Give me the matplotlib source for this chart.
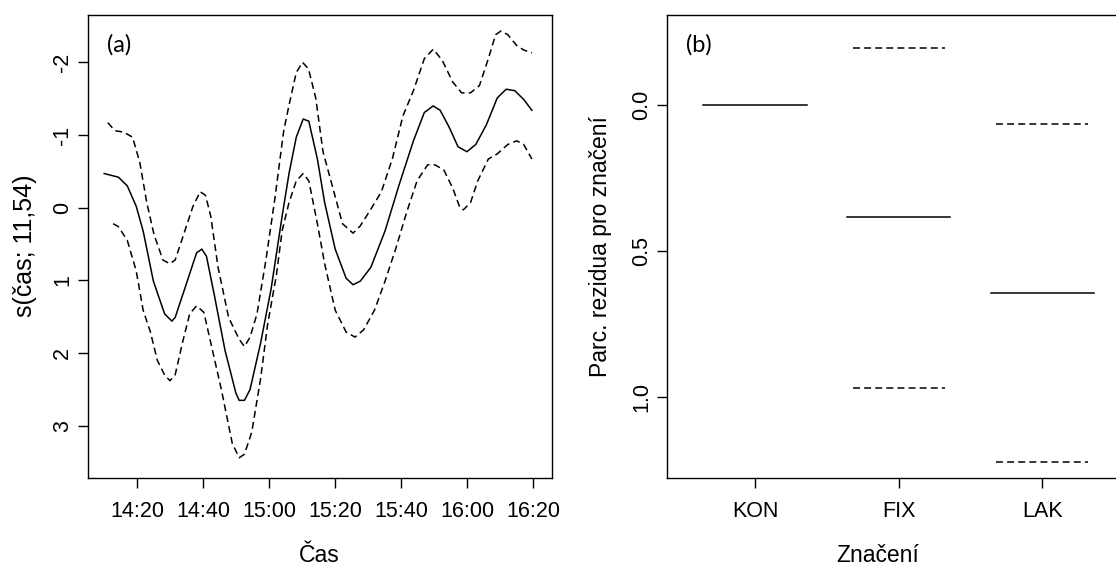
import numpy as np
import matplotlib
matplotlib.use("Agg")
from matplotlib import pyplot as plt

plt.rcParams['font.family'] = ['Liberation Sans', 'DejaVu Sans']
plt.rcParams['axes.unicode_minus'] = False
plt.rcParams['lines.scale_dashes'] = False

# panel (a): smooth term of time, minutes after 14:00
t_fit = [10, 14.3, 17, 19.7, 21.8, 24.9, 28.3, 30.5, 31.5, 34.8, 38, 39.6, 41, 43.4,
         46.6, 49.9, 50.9, 52.5, 54.2, 57.4, 60.6, 63.9, 66, 68.2, 70.3, 72, 74.6,
         76.8, 80, 83.3, 85.4, 87.6, 90.8, 95.1, 99.4, 103.7, 107, 109.7, 111.8,
         114.5, 117.2, 119.9, 122.6, 125.8, 129.1, 131.8, 134.4, 137.1, 139.6]
s_fit = [-0.47, -0.42, -0.30, -0.02, 0.32, 1.01, 1.46, 1.56, 1.51, 1.06, 0.62, 0.57,
         0.67, 1.21, 1.96, 2.55, 2.65, 2.65, 2.50, 1.86, 1.11, 0.12, -0.47, -0.97,
         -1.22, -1.19, -0.67, -0.07, 0.57, 0.97, 1.06, 1.01, 0.82, 0.32, -0.32,
         -0.92, -1.31, -1.40, -1.34, -1.11, -0.84, -0.77, -0.87, -1.14, -1.51,
         -1.63, -1.61, -1.49, -1.34]

t_hi = [11.1, 13.2, 15.9, 18.6, 20.8, 22.9, 25.1, 27.8, 29.9, 31.5, 33.7, 36.9, 39.1,
        40.7, 42.3, 44.5, 47.7, 50.9, 52.5, 54.2, 56.3, 59, 61.7, 64.4, 66, 68.2,
        70.1, 71.9, 74.1, 76.3, 79, 82.2, 85.4, 87.6, 90.8, 94, 97.3, 100.5, 103.7,
        107, 109.7, 112.4, 115.6, 118.3, 121, 123.7, 126.4, 128.6, 130.2, 132.3,
        135, 137.1, 139.6]
s_hi = [-1.17, -1.06, -1.04, -0.97, -0.62, -0.07, 0.37, 0.72, 0.77, 0.72, 0.42, -0.02,
        -0.22, -0.17, 0.12, 0.82, 1.51, 1.81, 1.91, 1.78, 1.46, 0.72, -0.12, -1.06,
        -1.41, -1.86, -2.0, -1.91, -1.51, -0.77, -0.32, 0.22, 0.35, 0.25, 0.02,
        -0.22, -0.67, -1.26, -1.61, -2.05, -2.18, -2.03, -1.73, -1.58, -1.58,
        -1.68, -2.05, -2.38, -2.43, -2.38, -2.23, -2.17, -2.13]

t_lo = [12.7, 14.3, 17, 19.7, 21.8, 24, 26.1, 28.3, 29.9, 31.5, 33.7, 35.9, 38, 40.2,
        42.3, 45.5, 48.8, 50.9, 52.5, 54.7, 57.4, 59.5, 62.2, 63.9, 66, 68.2, 70.3,
        72, 74.6, 76.8, 80, 83.3, 86, 88.6, 91.9, 95.1, 98.3, 101.6, 104.8, 108,
        110.2, 112.9, 115.6, 117.8, 118.8, 121, 123.2, 126.4, 129.1, 132.3, 135,
        137.1, 139.6]
s_lo = [0.22, 0.26, 0.45, 0.87, 1.41, 1.71, 2.10, 2.30, 2.38, 2.30, 1.86, 1.46, 1.35,
        1.44, 1.86, 2.50, 3.24, 3.44, 3.39, 3.09, 2.35, 1.61, 0.92, 0.32, -0.07,
        -0.37, -0.47, -0.37, 0.22, 0.77, 1.41, 1.71, 1.78, 1.68, 1.41, 1.01, 0.57,
        0.07, -0.37, -0.59, -0.59, -0.52, -0.27, 0.0, 0.03, -0.07, -0.37, -0.67,
        -0.74, -0.87, -0.92, -0.87, -0.67]

time_ticks = [20, 40, 60, 80, 100, 120, 140]
time_labels = ['14:20', '14:40', '15:00', '15:20', '15:40', '16:00', '16:20']
s_ticks = [-2, -1, 0, 1, 2, 3]

# panel (b): factor term
groups = ['KON', 'FIX', 'LAK']
eff = [0.0, 0.386, 0.643]
eff_hi = [None, -0.193, 0.066]
eff_lo = [None, 0.969, 1.222]
eff_ticks = [0.0, 0.5, 1.0]

W, H = 1116, 568
fig = plt.figure(figsize=(W / 100, H / 100), dpi=100)
bot = 1 - 477.7 / H
ax1 = fig.add_axes([87.7 / W, bot, 464 / W, 463 / H])
ax2 = fig.add_axes([666.7 / W, bot, 464 / W, 463 / H])

fs = 15.5
for ax in (ax1, ax2):
    for sp in ax.spines.values():
        sp.set_linewidth(1.0)
    ax.tick_params(length=7, width=1.0, labelsize=fs)
    ax.tick_params(axis='x', pad=10)
    ax.tick_params(axis='y', pad=3.5)

lw = 1.1
dash = (0, (5, 3))
ax1.plot(t_fit, s_fit, color='black', lw=lw)
ax1.plot(t_hi, s_hi, color='black', lw=lw, linestyle=dash)
ax1.plot(t_lo, s_lo, color='black', lw=lw, linestyle=dash)
ax1.set_xlim(5.0, 145.6)
ax1.set_ylim(3.714, -2.655)
ax1.set_xticks(time_ticks)
ax1.set_xticklabels(time_labels)
ax1.set_yticks(s_ticks)
ax1.set_yticklabels([str(v) for v in s_ticks], rotation=90, va='center')
ax1.set_xlabel('Čas', fontsize=fs + 1)
ax1.xaxis.set_label_coords(0.5, -0.169)
ax1.xaxis.label.set_va('center')
ax1.set_ylabel('s(čas; 11,54)', fontsize=18, va='center')
ax1.yaxis.set_label_coords(-0.135, 0.5)
ax1.text(0.068, 0.935, '(a)', transform=ax1.transAxes, fontsize=17,
         family=['Lato', 'DejaVu Sans'], ha='center', va='center')

for i, g in enumerate(groups):
    x = i + 1
    ax2.plot([x - 0.36, x + 0.36], [eff[i], eff[i]], color='black', lw=lw)
    if eff_hi[i] is not None:
        ax2.plot([x - 0.32, x + 0.32], [eff_hi[i], eff_hi[i]], color='black', lw=lw, linestyle=dash)
        ax2.plot([x - 0.32, x + 0.32], [eff_lo[i], eff_lo[i]], color='black', lw=lw, linestyle=dash)
ax2.set_xlim(0.385, 3.615)
ax2.set_ylim(1.277, -0.308)
ax2.set_xticks([1, 2, 3])
ax2.set_xticklabels(groups)
ax2.set_yticks(eff_ticks)
ax2.set_yticklabels(['%.1f' % v for v in eff_ticks], rotation=90, va='center')
ax2.set_xlabel('Značení', fontsize=fs + 1)
ax2.xaxis.set_label_coords(0.454, -0.169)
ax2.xaxis.label.set_va('center')
ax2.set_ylabel('Parc. rezidua pro značení', fontsize=fs + 1, va='center')
ax2.yaxis.set_label_coords(-0.143, 0.5)
ax2.text(0.07, 0.935, '(b)', transform=ax2.transAxes, fontsize=17,
         family=['Lato', 'DejaVu Sans'], ha='center', va='center')

fig.savefig('out.png', dpi=100)
